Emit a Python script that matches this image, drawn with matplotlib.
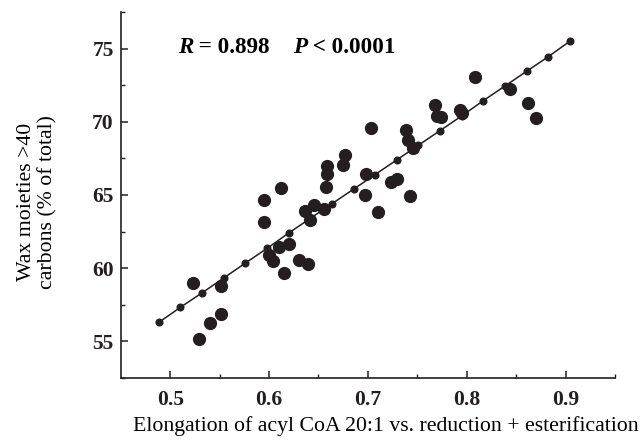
import matplotlib
matplotlib.use("Agg")
import matplotlib.pyplot as plt
from matplotlib.offsetbox import TextArea, HPacker, AnnotationBbox

plt.rcParams['font.family'] = ['Liberation Serif', 'DejaVu Serif']

# measured points (big dots)
big_x = [0.523, 0.5515, 0.5515, 0.5407, 0.529, 0.5952, 0.5952, 0.6121, 0.6003, 0.6037,
         0.6104, 0.6199, 0.6148, 0.630, 0.6391, 0.6364, 0.6452, 0.6418, 0.6559, 0.6579,
         0.697, 0.7098, 0.7427, 0.7232, 0.7293, 0.6586, 0.6586, 0.6744, 0.698, 0.6768,
         0.703, 0.7384, 0.7401, 0.7452, 0.7677, 0.7697, 0.7737, 0.793, 0.795, 0.8084,
         0.8439, 0.8623, 0.8697]
big_y = [59.0, 58.8, 56.84, 56.24, 55.16, 64.66, 63.18, 65.5, 60.87, 60.46,
         61.44, 61.62, 59.69, 60.58, 60.31, 63.93, 64.32, 63.32, 64.05, 65.52,
         65.02, 63.82, 64.95, 65.9, 66.1, 66.95, 66.43, 67.04, 66.43, 67.72,
         69.6, 69.44, 68.74, 68.24, 71.12, 70.4, 70.36, 70.8, 70.6, 73.07,
         72.21, 71.26, 70.24]

# regression line points (small dots)
fit_x = [0.4889, 0.5104, 0.5326, 0.5542, 0.5761, 0.598, 0.6199, 0.6417, 0.6636, 0.6856,
         0.7074, 0.7293, 0.7512, 0.773, 0.7949, 0.8169, 0.8387, 0.8606, 0.8825, 0.9043]
fit_y = [56.31, 57.33, 58.33, 59.33, 60.35, 61.35, 62.4, 63.4, 64.4, 65.4,
         66.4, 67.4, 68.4, 69.4, 70.4, 71.45, 72.45, 73.45, 74.45, 75.5]

fig = plt.figure(figsize=(6.42, 4.45), dpi=100)
ax = fig.add_axes([0.188, 0.1506, 0.77, 0.8224])

ax.plot(fit_x, fit_y, '-o', color='#231f20', lw=1.1, markersize=4.8, zorder=2)
ax.plot(big_x, big_y, 'o', color='#231f20', markersize=8.5, linestyle='none', zorder=3)

ax.set_xlim(0.45, 0.95)
ax.set_ylim(52.5, 77.5)
ax.set_xticks([0.5, 0.6, 0.7, 0.8, 0.9])
ax.set_xticks([0.55, 0.65, 0.75, 0.85, 0.95], minor=True)
ax.set_yticks([55, 60, 65, 70, 75])
ax.set_yticks([52.5, 57.5, 62.5, 67.5, 72.5, 77.5], minor=True)
ax.spines['top'].set_visible(False)
ax.spines['right'].set_visible(False)
for s in ['left', 'bottom']:
    ax.spines[s].set_linewidth(1.2)
    ax.spines[s].set_color('#231f20')

ax.tick_params(which='major', direction='in', length=5, width=1.1, labelsize=15.5, colors='#231f20')
ax.tick_params(which='minor', direction='in', length=3, width=1.0, colors='#231f20')
ax.tick_params(axis='x', which='major', pad=9)
ax.tick_params(axis='y', which='major', pad=5)
for lab in ax.get_xticklabels() + ax.get_yticklabels():
    lab.set_fontweight('bold')

ax.set_xlabel('Elongation of acyl CoA 20:1 vs. reduction + esterification', fontsize=15.7)
ax.xaxis.set_label_coords(0.536, -0.103)
ax.set_ylabel('Wax moieties >40\ncarbons (% of total)', fontsize=15.7, linespacing=1.15)
ax.yaxis.set_label_coords(-0.127, 0.48)

parts = [
    TextArea('R', textprops=dict(fontsize=16.7, fontweight='bold', fontstyle='italic')),
    TextArea(' = 0.898    ', textprops=dict(fontsize=16.7, fontweight='bold')),
    TextArea('P', textprops=dict(fontsize=16.7, fontweight='bold', fontstyle='italic')),
    TextArea(' < 0.0001', textprops=dict(fontsize=16.7, fontweight='bold')),
]
box = HPacker(children=parts, align='baseline', pad=0, sep=0)
ab = AnnotationBbox(box, (0.508, 75.1), xycoords='data', box_alignment=(0, 0.5), frameon=False)
ax.add_artist(ab)

fig.savefig('out.png', dpi=100)
